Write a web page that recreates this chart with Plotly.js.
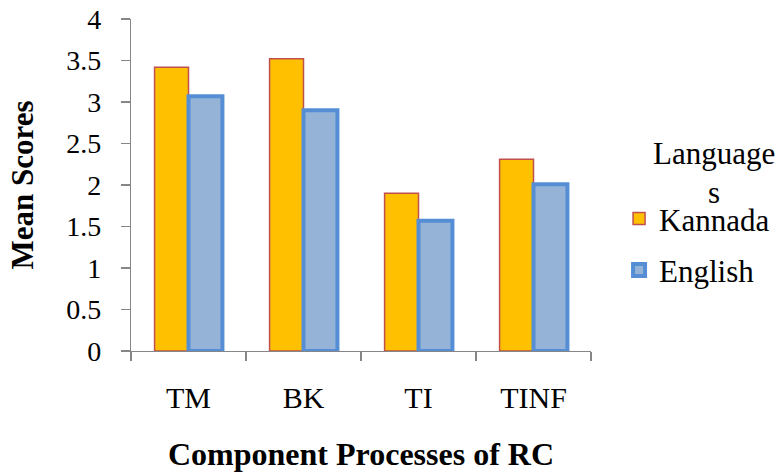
<!DOCTYPE html>
<html>
<head>
<meta charset="utf-8">
<script src="https://cdn.plot.ly/plotly-3.0.1.min.js"></script>
<style>
  html, body { margin: 0; padding: 0; background: #fff; }
  #chart { width: 780px; height: 472px; }
</style>
</head>
<body>
<div id="chart"></div>
<script>
// Component processes of reading comprehension
const categories = ['TM', 'BK', 'TI', 'TINF'];
const kannadaScores = [3.42, 3.52, 1.90, 2.31];
const englishScores = [3.07, 2.90, 1.57, 2.01];
const yTickValues = [0, 0.5, 1, 1.5, 2, 2.5, 3, 3.5, 4];
const yTickLabels = ['0', '0.5', '1', '1.5', '2', '2.5', '3', '3.5', '4'];
const legendHeading = ['Language', 's'];

const serif = '"Liberation Serif"';
const axisGrey = '#868686';

const traces = [
  {
    type: 'bar',
    name: 'Kannada',
    x: categories,
    y: kannadaScores,
    legendgroup: 'kannada',
    marker: { color: '#FFC000', line: { color: '#C0504D', width: 1.5 } }
  },
  {
    type: 'bar',
    name: 'English',
    x: categories,
    y: englishScores,
    legendgroup: 'english',
    marker: { color: '#95B3D7', line: { color: '#558ED5', width: 4 } }
  }
];

// heading above the legend, wrapped over two lines
const headingY = [0.596, 0.476];
const annotations = legendHeading.map((t, i) => ({
  text: t,
  xref: 'paper',
  yref: 'paper',
  x: 1.267,
  y: headingY[i],
  xanchor: 'center',
  yanchor: 'middle',
  showarrow: false,
  font: { family: serif, size: 31, color: '#000' }
}));

const layout = {
  width: 780,
  height: 472,
  margin: { l: 131, r: 189, t: 19, b: 121, autoexpand: false },
  paper_bgcolor: '#ffffff',
  plot_bgcolor: '#ffffff',
  font: { family: serif, color: '#000000', size: 28 },
  barmode: 'group',
  bargap: 0.41,
  bargroupgap: 0,
  showlegend: true,
  annotations: annotations,
  xaxis: {
    type: 'category',
    showgrid: false,
    zeroline: false,
    showline: true,
    linecolor: axisGrey,
    linewidth: 1.2,
    ticks: 'outside',
    tickson: 'boundaries',
    ticklen: 9,
    tickcolor: axisGrey,
    tickwidth: 1.2,
    ticklabelstandoff: 20,
    tickfont: { family: serif, size: 30, color: '#000' },
    title: {
      text: '<b>Component Processes of RC</b>',
      font: { family: serif, size: 32, color: '#000' },
      standoff: 38
    },
    automargin: false
  },
  yaxis: {
    range: [0, 4],
    tickvals: yTickValues,
    ticktext: yTickLabels,
    showgrid: false,
    zeroline: false,
    showline: true,
    linecolor: axisGrey,
    linewidth: 1.2,
    ticks: 'outside',
    ticklen: 9,
    tickcolor: axisGrey,
    tickwidth: 1.2,
    ticklabelstandoff: 14,
    tickfont: { family: serif, size: 28, color: '#000' },
    title: {
      text: '<b>Mean Scores</b>',
      font: { family: serif, size: 31, color: '#000' },
      standoff: 23
    },
    automargin: false
  },
  legend: {
    x: 1.061,
    xanchor: 'left',
    y: 0.479,
    yanchor: 'top',
    traceorder: 'grouped',
    tracegroupgap: 8,
    bgcolor: 'rgba(0,0,0,0)',
    font: { family: serif, size: 31, color: '#000' }
  }
};

Plotly.newPlot('chart', traces, layout, { displayModeBar: false, staticPlot: true });
</script>
</body>
</html>
